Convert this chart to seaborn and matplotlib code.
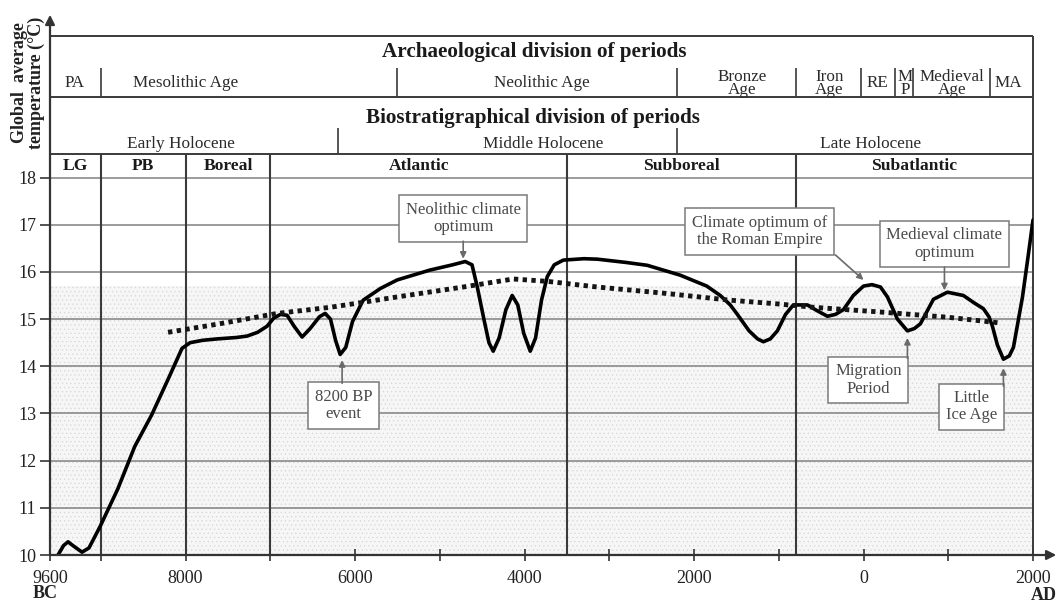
import matplotlib
matplotlib.use("Agg")
import matplotlib.pyplot as plt
import numpy as np
import pandas as pd
import seaborn as sns

# ---------------- data ----------------
curve_year = [-9505, -9440, -9387, -9330, -9222, -9140, -9010, -8800, -8600, -8400, -8200,
              -8042, -7947, -7800, -7628, -7400, -7274, -7150, -7038, -6960, -6880, -6802,
              -6720, -6625, -6530, -6420, -6353, -6290, -6230, -6176, -6110, -6030, -5905,
              -5700, -5503, -5114, -4850, -4700, -4620, -4560, -4480, -4420, -4370, -4300,
              -4220, -4146, -4080, -4010, -3933, -3870, -3800, -3732, -3650, -3543, -3300,
              -3142, -2800, -2552, -2162, -1850, -1690, -1572, -1489, -1350, -1250, -1182,
              -1100, -1017, -920, -828, -662, -550, -426, -330, -237, -120, 0, 100, 200,
              282, 400, 518, 600, 671, 760, 825, 990, 1179, 1300, 1415, 1480, 1521, 1580,
              1651, 1720, 1769, 1876, 1940, 2000]
curve_temp = [10.0, 10.2, 10.28, 10.2, 10.06, 10.15, 10.6, 11.4, 12.3, 12.97, 13.75,
              14.38, 14.5, 14.55, 14.58, 14.61, 14.64, 14.72, 14.85, 15.02, 15.1, 15.08,
              14.85, 14.62, 14.8, 15.05, 15.12, 15.0, 14.55, 14.25, 14.4, 14.95, 15.4,
              15.65, 15.83, 16.04, 16.15, 16.22, 16.15, 15.7, 15.0, 14.5, 14.32, 14.6,
              15.2, 15.5, 15.3, 14.7, 14.32, 14.6, 15.4, 15.9, 16.15, 16.25, 16.28,
              16.27, 16.2, 16.14, 15.93, 15.7, 15.5, 15.3, 15.1, 14.75, 14.58, 14.52,
              14.58, 14.75, 15.1, 15.3, 15.3, 15.18, 15.06, 15.1, 15.2, 15.5, 15.7, 15.73, 15.68,
              15.47, 15.0, 14.75, 14.8, 14.9, 15.2, 15.42, 15.57, 15.5, 15.35, 15.22, 15.05, 14.85, 14.45,
              14.15, 14.22, 14.4, 15.47, 16.3, 17.1]

trend_year = [-8207, -7600, -6920, -6294, -5963, -5503, -4724, -4134, -3732, -3142, -2363,
              -1572, -1000, -592, 198, 990, 1600]
trend_temp = [14.72, 14.9, 15.12, 15.25, 15.34, 15.47, 15.68, 15.85, 15.8, 15.68, 15.55,
              15.4, 15.32, 15.25, 15.15, 15.04, 14.92]

# biostratigraphic periods (plot row)
period_names = ["LG", "PB", "Boreal", "Atlantic", "Subboreal", "Subatlantic"]
period_edges = [-9600, -9000, -8000, -7000, -3500, -800, 2000]

# archaeological division
arch_names = ["PA", "Mesolithic Age", "Neolithic Age", "Bronze\nAge", "Iron\nAge", "RE",
              "M\nP", "Medieval\nAge", "MA"]
arch_centers = [-9305, -7994, -3791, -1430, -403, 164, 494, 1049, 1710]
arch_bounds = [-9000, -5500, -2200, -800, -25, 376, 589, 1492]

# biostratigraphical division
bio_names = ["Early Holocene", "Middle Holocene", "Late Holocene"]
bio_centers = [-8053, -3780, 81]
bio_bounds = [-6200, -2200]

# annotations: text, box centre, arrow tail, arrow tip
note_text = ["Neolithic climate\noptimum", "8200 BP\nevent", "Climate optimum of\nthe Roman Empire",
             "Medieval climate\noptimum", "Migration\nPeriod", "Little\nIce Age"]
note_box = [(-4724, 17.13), (-6135, 13.17), (-1229, 16.86), (955, 16.59), (57, 13.71), (1274, 13.14)]
note_tail = [(-4724, 16.65), (-6153, 13.64), (-332, 16.36), (955, 16.1), (518, 14.17), (1651, 13.58)]
note_tip = [(-4724, 16.28), (-6153, 14.13), (0, 15.83), (955, 15.61), (518, 14.6), (1651, 13.96)]

xtick_pos = [-9600, -8000, -6000, -4000, -2000, 0, 2000]
xtick_lab = ["9600", "8000", "6000", "4000", "2000", "0", "2000"]
xtick_minor = [-9000, -7000, -5000, -3000, -1000, 1000]
ytick_pos = list(range(10, 19))

# ---------------- style ----------------
sns.set_theme(style="white")
plt.rcParams["font.family"] = ["Liberation Serif", "DejaVu Serif"]
plt.rcParams["hatch.linewidth"] = 0.4
plt.rcParams["hatch.color"] = "#d6d6d6"

W, H = 1058, 603
fig = plt.figure(figsize=(W / 100, H / 100), dpi=100)
fig.patch.set_facecolor("white")
ax = fig.add_axes([50 / W, 48 / H, 983 / W, 519 / H])
ax.set_facecolor("white")
ax.set_xlim(-9600, 2000)
ax.set_ylim(10, 21)
for s in ax.spines.values():
    s.set_visible(False)

LINE = "#3a3a3a"
GRID = "#8a8a8a"

# stippled lower background
ax.axhspan(10, 15.7, xmin=0, xmax=1, facecolor="#f6f6f6", edgecolor="#d6d6d6",
           hatch="....", lw=0, zorder=0)

# horizontal grid
ax.hlines(ytick_pos[1:], -9600, 2000, color=GRID, lw=1.2, zorder=1)
# period boundaries
ax.vlines(period_edges[1:-1], 10, 18.5, color=LINE, lw=1.5, zorder=1)
ax.vlines([2000], 10, 21, color=LINE, lw=1.4, zorder=1, clip_on=False)
# header table
ax.hlines([18.5, 19.7, 21], -9600, 2000, color=LINE, lw=1.4, zorder=1, clip_on=False)
ax.vlines(arch_bounds, 19.7, 20.32, color=LINE, lw=1.2, zorder=1)
ax.vlines(bio_bounds, 18.5, 19.05, color=LINE, lw=1.2, zorder=1)

# data lines
sns.lineplot(x=curve_year, y=curve_temp, ax=ax, color="black", lw=2.6, sort=False,
             estimator=None, zorder=3)
sns.lineplot(x=trend_year, y=trend_temp, ax=ax, color="#151515", lw=3.5, sort=False,
             estimator=None, linestyle=(0, (0.9, 0.9)), zorder=3)

# axes with arrows
ax.annotate("", xy=(-9600, 21.45), xytext=(-9600, 10), annotation_clip=False,
            arrowprops=dict(arrowstyle="-|>", color="#333", lw=1.6, mutation_scale=14,
                            shrinkA=0, shrinkB=0), zorder=5)
ax.annotate("", xy=(2275, 10), xytext=(-9600, 10), annotation_clip=False,
            arrowprops=dict(arrowstyle="-|>", color="#333", lw=1.6, mutation_scale=14,
                            shrinkA=0, shrinkB=0), zorder=5)

# ticks
ax.set_yticks(ytick_pos)
ax.set_yticklabels([str(v) for v in ytick_pos])
ax.set_xticks(xtick_pos)
ax.set_xticklabels(xtick_lab)
ax.set_xticks(xtick_minor, minor=True)
ax.tick_params(axis="y", which="major", direction="out", length=7, width=1.3,
               color="#444", labelsize=13, pad=3, left=True, labelcolor="#222")
ax.tick_params(axis="x", which="both", direction="inout", length=9, width=1.3,
               color="#444", labelsize=13, pad=6, bottom=True, labelcolor="#222")

# header texts
ax.text(-3886, 20.66, "Archaeological division of periods", ha="center", va="center",
        fontsize=15.2, fontweight="bold", color="#1a1a1a")
ax.text(-3898, 19.26, "Biostratigraphical division of periods", ha="center", va="center",
        fontsize=15.2, fontweight="bold", color="#1a1a1a")
for name, cx in zip(arch_names, arch_centers):
    ax.text(cx, 20.0, name, ha="center", va="center", fontsize=12.3, color="#2a2a2a",
            linespacing=0.78)
for name, cx in zip(bio_names, bio_centers):
    ax.text(cx, 18.71, name, ha="center", va="center", fontsize=12.4, color="#2a2a2a")
for i, name in enumerate(period_names):
    cx = (period_edges[i] + period_edges[i + 1]) / 2
    ax.text(cx, 18.25, name, ha="center", va="center", fontsize=12.6,
            fontweight="bold", color="#1a1a1a")

# annotations
for txt, (bx, by), tail, tip in zip(note_text, note_box, note_tail, note_tip):
    ax.text(bx, by, txt, ha="center", va="center", fontsize=12, color="#4a4a4a",
            linespacing=1.1, zorder=4,
            bbox=dict(boxstyle="square,pad=0.4", fc="white", ec="#7a7a7a", lw=1.1))
    ax.annotate("", xy=tip, xytext=tail,
                arrowprops=dict(arrowstyle="-|>", color="#6a6a6a", lw=1.2,
                                mutation_scale=9, shrinkA=0, shrinkB=0), zorder=4)

# axis titles
fig.text(28 / W, 1 - 83 / H, "Global  average\ntemperature (°C)", rotation=90,
         ha="center", va="center", fontsize=13, fontweight="bold", color="#222",
         linespacing=1.0)
fig.text(33 / W, 1 - 594 / H, "BC", ha="left", va="center", fontsize=13,
         fontweight="bold", color="#222")
fig.text(1044 / W, 1 - 596 / H, "AD", ha="center", va="center", fontsize=13,
         fontweight="bold", color="#222")

fig.savefig("out.png", dpi=100, facecolor="white")
